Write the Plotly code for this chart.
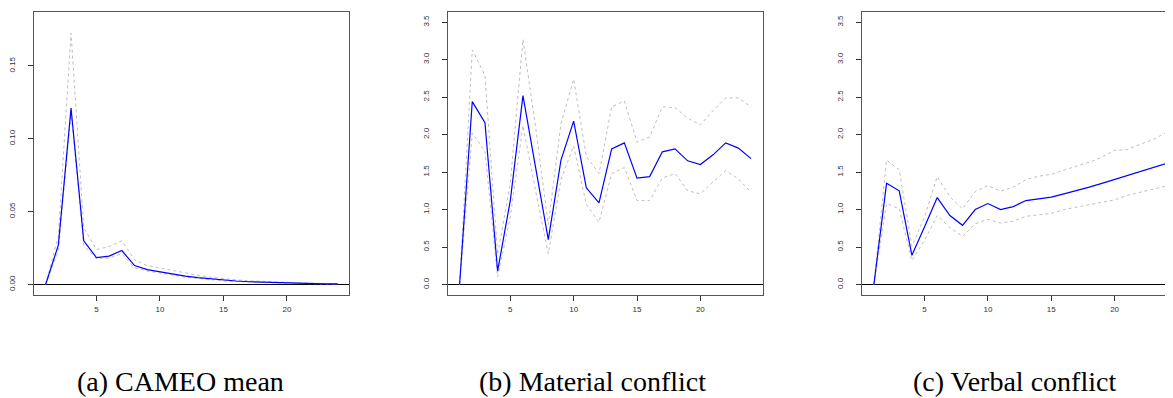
import plotly.graph_objects as go

horizon = list(range(1, 25))

# (a) CAMEO mean
cameo_mean = [0, 0.027, 0.121, 0.030, 0.0185, 0.0195, 0.0233, 0.013, 0.0102, 0.0086, 0.0074, 0.0057,
              0.0047, 0.0038, 0.003, 0.0024, 0.0019, 0.0016, 0.0013, 0.0011, 0.0009, 0.0007, 0.0005, 0.0004]
cameo_upper = [0, 0.033, 0.1725, 0.039, 0.024, 0.026, 0.030, 0.017, 0.013, 0.0112, 0.0098, 0.0078,
               0.0063, 0.005, 0.004, 0.0032, 0.0026, 0.0021, 0.0017, 0.0014, 0.0011, 0.0009, 0.0007, 0.0005]
cameo_lower = [0, 0.023, 0.118, 0.027, 0.0175, 0.0182, 0.021, 0.0115, 0.0092, 0.0076, 0.0065, 0.005,
               0.004, 0.0032, 0.0025, 0.002, 0.0016, 0.0013, 0.0011, 0.0009, 0.0007, 0.0006, 0.0004, 0.0003]

# (b) Material conflict
material_mean = [0, 2.44, 2.16, 0.18, 1.12, 2.52, 1.56, 0.60, 1.66, 2.18, 1.29, 1.09,
                 1.81, 1.89, 1.42, 1.44, 1.77, 1.81, 1.65, 1.60, 1.73, 1.89, 1.82, 1.68]
material_upper = [0, 3.13, 2.79, 0.40, 1.35, 3.27, 2.10, 0.80, 2.15, 2.74, 1.71, 1.48,
                  2.37, 2.45, 1.90, 1.97, 2.37, 2.36, 2.22, 2.13, 2.32, 2.49, 2.49, 2.37]
material_lower = [0, 2.02, 1.78, 0.10, 0.90, 2.12, 1.25, 0.41, 1.40, 1.85, 1.07, 0.83,
                  1.48, 1.56, 1.12, 1.12, 1.42, 1.48, 1.25, 1.21, 1.37, 1.52, 1.41, 1.23]

# (c) Verbal conflict
verbal_mean = [0, 1.35, 1.25, 0.39, 0.77, 1.16, 0.92, 0.79, 1.00, 1.08, 1.00, 1.04,
               1.12, 1.14, 1.165, 1.21, 1.25, 1.30, 1.35, 1.40, 1.45, 1.50, 1.56, 1.61]
verbal_upper = [0, 1.66, 1.53, 0.51, 0.90, 1.44, 1.17, 1.01, 1.24, 1.32, 1.245, 1.30,
                1.40, 1.445, 1.47, 1.53, 1.58, 1.63, 1.70, 1.79, 1.80, 1.87, 1.93, 2.02]
verbal_lower = [0, 1.08, 1.01, 0.32, 0.59, 0.92, 0.76, 0.64, 0.81, 0.87, 0.82, 0.845,
                0.91, 0.93, 0.95, 1.00, 1.03, 1.06, 1.10, 1.13, 1.19, 1.23, 1.28, 1.31]

captions = ["(a) CAMEO mean", "(b) Material conflict", "(c) Verbal conflict"]
x_ticks = [5, 10, 15, 20]
y_ticks_a = [0, 0.05, 0.10, 0.15]
y_labels_a = ["0.00", "0.05", "0.10", "0.15"]
y_ticks_bc = [0, 0.5, 1.0, 1.5, 2.0, 2.5, 3.0, 3.5]
y_labels_bc = ["0.0", "0.5", "1.0", "1.5", "2.0", "2.5", "3.0", "3.5"]

# page body has an 8px margin, so the figure is 8px smaller and coordinates shifted by 8
OFF = 8
W, H = 1173 - OFF, 398 - OFF
panels = [
    (cameo_mean, cameo_upper, cameo_lower),
    (material_mean, material_upper, material_lower),
    (verbal_mean, verbal_upper, verbal_lower),
]
x_domains = [[(32 - OFF) / W, (348 - OFF) / W],
             [(446.7 - OFF) / W, (762 - OFF) / W],
             [(861.7 - OFF) / W, 1.0]]
x_ranges = [[0.08, 24.92], [0.08, 24.92], [0.08, 24.61]]
y_ranges = [[-0.0072, 0.1872], [-0.14, 3.64], [-0.14, 3.64]]
y_dom = [1 - (295 - OFF) / H, 1 - (11.7 - OFF) / H]
caption_centers = [179, 592, 1014]

fig = go.Figure()
tick_font = dict(family="Liberation Sans, Arial, sans-serif", size=8, color="#333333")

for i, (mean, up, low) in enumerate(panels):
    xa = "x" if i == 0 else f"x{i+1}"
    ya = "y" if i == 0 else f"y{i+1}"
    for band in (up, low):
        fig.add_trace(go.Scatter(x=horizon, y=band, mode="lines", xaxis=xa, yaxis=ya,
                                 line=dict(color="#bebebe", width=1, dash="3px,3px"),
                                 showlegend=False, hoverinfo="skip"))
    fig.add_trace(go.Scatter(x=horizon, y=mean, mode="lines", xaxis=xa, yaxis=ya,
                             line=dict(color="#0000ff", width=1.2),
                             showlegend=False))
    xkey = "xaxis" if i == 0 else f"xaxis{i+1}"
    ykey = "yaxis" if i == 0 else f"yaxis{i+1}"
    fig.layout[xkey] = dict(
        domain=x_domains[i], range=x_ranges[i], anchor=ya,
        tickmode="array", tickvals=x_ticks, ticktext=[str(t) for t in x_ticks],
        ticks="outside", ticklen=5, tickcolor="#333333", tickwidth=1,
        showline=True, linecolor="#555555", linewidth=1, mirror=True,
        showgrid=False, zeroline=False, tickfont=tick_font, ticklabelstandoff=1,
    )
    fig.layout[ykey] = dict(
        domain=y_dom, range=y_ranges[i], anchor=xa,
        tickmode="array",
        tickvals=y_ticks_a if i == 0 else y_ticks_bc,
        ticktext=y_labels_a if i == 0 else y_labels_bc,
        ticks="outside", ticklen=5, tickcolor="#333333", tickwidth=1,
        tickangle=-90,
        showline=True, linecolor="#555555", linewidth=1, mirror=(i != 2),
        showgrid=False, zeroline=True, zerolinecolor="#000000", zerolinewidth=1.3,
        tickfont=tick_font, ticklabelstandoff=10,
    )
    fig.add_annotation(
        x=(caption_centers[i] - OFF) / W, y=1 - (381 - OFF) / H, xref="paper", yref="paper",
        text=captions[i], showarrow=False, xanchor="center", yanchor="middle",
        font=dict(family="Liberation Serif, Times New Roman, serif", size=28, color="#000000"),
    )

fig.update_layout(
    width=W, height=H,
    margin=dict(l=0, r=0, t=0, b=0),
    paper_bgcolor="white", plot_bgcolor="white",
)

fig.write_html("out.html")
